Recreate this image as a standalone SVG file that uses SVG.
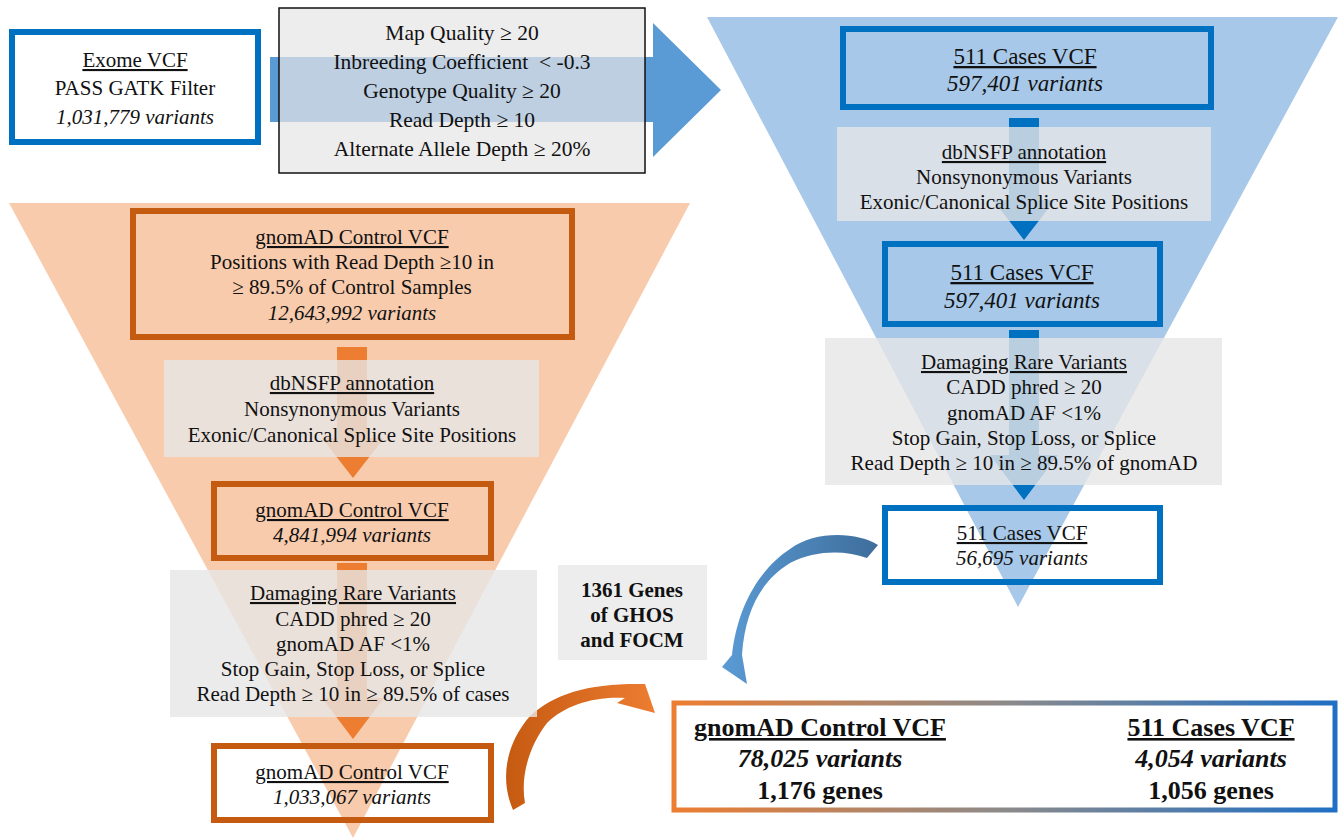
<svg xmlns="http://www.w3.org/2000/svg" width="1341" height="838" viewBox="0 0 1341 838">
<defs>
<style>
text{font-family:'Liberation Serif','Times New Roman',serif;font-size:21px;fill:#111;text-anchor:middle}
.u{text-decoration:underline}
.i{font-style:italic}
.b{font-weight:bold}
.big{font-size:23px}
.flt{font-size:21.5px}
.fin{font-size:26px;font-weight:bold}
.gray{fill:#E7E6E6;fill-opacity:0.8}
.bbox{fill:none;stroke:#0070C0;stroke-width:6}
.obox{fill:none;stroke:#C55A11;stroke-width:6}
</style>
<linearGradient id="gFinal" gradientUnits="userSpaceOnUse" x1="672" y1="0" x2="1336" y2="0">
<stop offset="0" stop-color="#ED7D31"/><stop offset="0.5" stop-color="#8C8A8A"/><stop offset="1" stop-color="#1F6FC5"/>
</linearGradient>
<linearGradient id="gBlueCurve" gradientUnits="userSpaceOnUse" x1="877" y1="0" x2="721" y2="0">
<stop offset="0" stop-color="#3E6E9C"/><stop offset="1" stop-color="#5B9BD5"/>
</linearGradient>
<linearGradient id="gOrangeCurve" gradientUnits="userSpaceOnUse" x1="505" y1="0" x2="657" y2="0">
<stop offset="0" stop-color="#C55A11"/><stop offset="1" stop-color="#ED7D31"/>
</linearGradient>
</defs>
<rect width="1341" height="838" fill="#fff"/>

<polygon id="funnel-cases" points="707,17 1338,17 1018,607" fill="#A7C8E8"/>
<polygon id="funnel-control" points="9,203 690,203 353,838" fill="#F8CBAD"/>

<g id="connectors">
  <polygon points="270,57 653,57 653,23 721,90 653,157 653,122 270,122" fill="#5B9BD5"/>
  <polygon points="1009,118 1039,118 1039,200 1055,200 1024,240 993,200 1009,200" fill="#0070C0"/>
  <polygon points="1009,330 1039,330 1039,455 1058,455 1024,500 990,455 1009,455" fill="#0070C0"/>
  <polygon points="337,347 367,347 367,438 384,438 353,478 322,438 337,438" fill="#ED7D31"/>
  <polygon points="337,563 367,563 367,698 384,698 353,739 322,698 337,698" fill="#ED7D31"/>
  <path d="M878,545 C858,532 815,530 790,549 C765,565 738,600 732,655 L722,667 L747,684 L742,655 C745,610 762,580 790,563 C815,550 845,550 867,558 Z" fill="url(#gBlueCurve)"/>
  <path d="M513,810 C500,780 505,745 530,716 C555,693 590,683 645,684 L655,713 L617,703 L625,698 C595,696 565,705 547,723 C530,745 520,775 525,803 Z" fill="url(#gOrangeCurve)"/>
</g>

<g id="exome">
  <rect x="12" y="32" width="246" height="110" fill="#fff" stroke="#0070C0" stroke-width="6"/>
  <text x="135" y="67" class="u">Exome VCF</text>
  <text x="135" y="95">PASS GATK Filter</text>
  <text x="135" y="124" class="i">1,031,779 variants</text>
</g>

<g id="filters">
  <rect x="279" y="8" width="366" height="165" fill="#E7E6E6" fill-opacity="0.7" stroke="#111" stroke-width="1.5"/>
  <text x="462" y="40" class="flt">Map Quality ≥ 20</text>
  <text x="462" y="69" class="flt" xml:space="preserve">Inbreeding Coefficient  &lt; -0.3</text>
  <text x="462" y="98" class="flt">Genotype Quality ≥ 20</text>
  <text x="462" y="127" class="flt">Read Depth ≥ 10</text>
  <text x="462" y="156" class="flt">Alternate Allele Depth ≥ 20%</text>
</g>

<g id="cases1">
  <rect x="843" y="29" width="368" height="78" class="bbox"/>
  <text x="1025" y="64" class="u big">511 Cases VCF</text>
  <text x="1025" y="91" class="i big">597,401 variants</text>
</g>
<g id="cases-dbnsfp">
  <rect x="837" y="127" width="374" height="94" class="gray"/>
  <text x="1024" y="159" class="u">dbNSFP annotation</text>
  <text x="1024" y="184">Nonsynonymous Variants</text>
  <text x="1024" y="209">Exonic/Canonical Splice Site Positions</text>
</g>
<g id="cases2">
  <rect x="885" y="244" width="275" height="80" class="bbox"/>
  <text x="1022" y="280" class="u big">511 Cases VCF</text>
  <text x="1022" y="308" class="i big">597,401 variants</text>
</g>
<g id="cases-damaging">
  <rect x="825" y="338" width="397" height="147" class="gray"/>
  <text x="1024" y="369" class="u">Damaging Rare Variants</text>
  <text x="1024" y="394">CADD phred ≥ 20</text>
  <text x="1024" y="420">gnomAD AF &lt;1%</text>
  <text x="1024" y="445">Stop Gain, Stop Loss, or Splice</text>
  <text x="1024" y="470">Read Depth ≥ 10 in ≥ 89.5% of gnomAD</text>
</g>
<g id="cases3">
  <rect x="885" y="508" width="275" height="74" class="bbox"/>
  <text x="1022" y="540" class="u">511 Cases VCF</text>
  <text x="1022" y="565" class="i">56,695 variants</text>
</g>

<g id="control1">
  <rect x="133" y="211" width="439" height="126" class="obox"/>
  <text x="352" y="244" class="u">gnomAD Control VCF</text>
  <text x="352" y="269">Positions with Read Depth ≥10 in</text>
  <text x="352" y="294">≥ 89.5% of Control Samples</text>
  <text x="352" y="320" class="i">12,643,992 variants</text>
</g>
<g id="control-dbnsfp">
  <rect x="164" y="360" width="375" height="97" class="gray"/>
  <text x="352" y="390" class="u">dbNSFP annotation</text>
  <text x="352" y="416">Nonsynonymous Variants</text>
  <text x="352" y="442">Exonic/Canonical Splice Site Positions</text>
</g>
<g id="control2">
  <rect x="214" y="484" width="277" height="74" class="obox"/>
  <text x="352" y="517" class="u">gnomAD Control VCF</text>
  <text x="352" y="542" class="i">4,841,994 variants</text>
</g>
<g id="control-damaging">
  <rect x="170" y="570" width="367" height="147" class="gray"/>
  <text x="353" y="600" class="u">Damaging Rare Variants</text>
  <text x="353" y="626">CADD phred ≥ 20</text>
  <text x="353" y="651">gnomAD AF &lt;1%</text>
  <text x="353" y="676">Stop Gain, Stop Loss, or Splice</text>
  <text x="353" y="701">Read Depth ≥ 10 in ≥ 89.5% of cases</text>
</g>
<g id="control3">
  <rect x="214" y="746" width="277" height="74" class="obox"/>
  <text x="352" y="779" class="u">gnomAD Control VCF</text>
  <text x="352" y="804" class="i">1,033,067 variants</text>
</g>

<g id="genes">
  <rect x="558" y="565" width="149" height="95" fill="#EDEDED"/>
  <text x="632" y="597" class="b">1361 Genes</text>
  <text x="632" y="622" class="b">of GHOS</text>
  <text x="632" y="647" class="b">and FOCM</text>
</g>

<g id="final">
  <rect x="674" y="703" width="661" height="107" fill="#fff" stroke="url(#gFinal)" stroke-width="5"/>
  <text x="820" y="736" class="fin u">gnomAD Control VCF</text>
  <text x="820" y="767" class="fin i">78,025 variants</text>
  <text x="820" y="799" class="fin">1,176 genes</text>
  <text x="1211" y="736" class="fin u">511 Cases VCF</text>
  <text x="1211" y="767" class="fin i">4,054 variants</text>
  <text x="1211" y="799" class="fin">1,056 genes</text>
</g>
</svg>
